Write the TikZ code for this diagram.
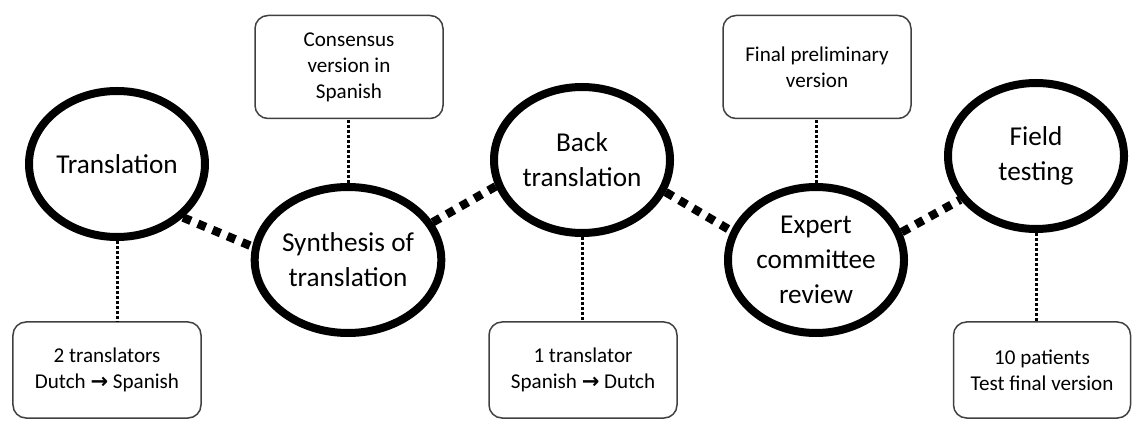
\documentclass[tikz,border=0pt]{standalone}
\usepackage{fontspec}
\setmainfont{Carlito}
\newfontfamily\arrowfont{DejaVu Sans}
\usetikzlibrary{shapes.geometric}
\newcommand{\goesto}{{\arrowfont\bfseries →}}
\begin{document}
\begin{tikzpicture}[x=0.2mm,y=-0.2mm,
    stage/.style={ellipse,draw,line width=1.6mm,inner sep=0pt,align=center,
      minimum width=35.2mm,minimum height=29.2mm,font=\fontsize{15.5}{20}\selectfont},
    note/.style={draw=black!75,line width=0.3mm,rounded corners=2.6mm,align=center,
      inner sep=0pt,minimum height=20.6mm,minimum width=37.6mm,
      font=\fontsize{12}{14.8}\selectfont},
    link/.style={line width=1.7mm,dash pattern=on 1.7mm off 1.5mm},
    tie/.style={line width=0.6mm,dash pattern=on 0.5mm off 0.5mm}]
  \useasboundingbox (0,0) rectangle (1132,421);
  % stages
  \node[stage] (tr) at (117,164) {Translation};
  \node[stage] (syn) at (348,260) {Synthesis of\\translation};
  \node[stage] (back) at (582,160) {Back\\translation};
  \node[stage] (exp) at (816,260) {Expert\\committee\\review};
  \node[stage] (field) at (1036,156) {Field\\testing};
  % notes
  \node[note] (cons) at (349,67) {Consensus\\version in\\Spanish};
  \node[note] (fin) at (817,67) {Final preliminary\\version};
  \node[note,minimum height=19.2mm] (b1) at (107,370) {2 translators\\Dutch \goesto{} Spanish};
  \node[note,minimum height=19.2mm] (b2) at (583,370) {1 translator\\Spanish \goesto{} Dutch};
  \node[note,minimum height=19.2mm,minimum width=35.4mm] (b3) at (1042,370) {10 patients\\Test final version};
  % links
  \draw[link] (tr.-39) -- (syn.172);
  \draw[link] (syn.24) -- (back.-163);
  \draw[link] (back.-21) -- (exp.161);
  \draw[link] (exp.18) -- (field.-150);
  % ties
  \draw[tie] (tr.south) -- (tr.south |- b1.north);
  \draw[tie] (syn.north) -- (syn.north |- cons.south);
  \draw[tie] (back.south) -- (back.south |- b2.north);
  \draw[tie] (exp.north) -- (exp.north |- fin.south);
  \draw[tie] (field.south) -- (field.south |- b3.north);
\end{tikzpicture}
\end{document}
